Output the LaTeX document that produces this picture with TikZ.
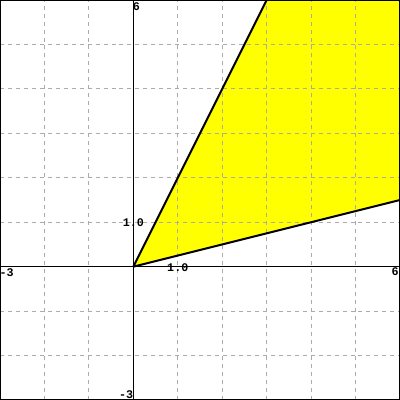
\documentclass[tikz,border=0pt]{standalone}
\usepackage{fontspec}
\setmonofont{Liberation Mono}
\definecolor{fillyellow}{RGB}{255,255,0}
\begin{document}
\begin{tikzpicture}[x=1cm,y=1cm,
  gridline/.style={draw=black!33, line width=0.64pt, dash pattern=on 2.55pt off 2.55pt},
  axisline/.style={draw=black, line width=0.64pt},
  boundline/.style={draw=black, line width=1.3pt},
  lbl/.style={font=\ttfamily\bfseries\fontsize{7.5}{8}\selectfont, inner sep=0pt, text=black}]
\useasboundingbox (-3,-3) rectangle (6,6);
\coordinate (O) at (0,0);
\coordinate (A) at (3,6);
\coordinate (B) at (6,6);
\coordinate (C) at (6,1.5);
\fill[fillyellow] (O) -- (A) -- (B) -- (C) -- cycle;
\foreach \i in {-2,-1,1,2,3,4,5} {
  \draw[gridline] (\i,-3) -- (\i,6);
  \draw[gridline] (-3,\i) -- (6,\i);
}
\draw[axisline] (-3,0) -- (6,0);
\draw[axisline] (0,-3) -- (0,6);
\draw[boundline] (O) -- (A);
\draw[boundline] (O) -- (C);
\draw[axisline] (-2.989,-2.989) rectangle (5.989,5.989);
\node[lbl] (ytop) at (0.07,5.85) {6};
\node[lbl] (yone) at (0,0.98) {1.0};
\node[lbl] (xone) at (1,-0.02) {1.0};
\node[lbl] (xleft) at (-2.85,-0.13) {-3};
\node[lbl] (xright) at (5.89,-0.12) {6};
\node[lbl] (ybot) at (-0.16,-2.89) {-3};
\end{tikzpicture}
\end{document}
